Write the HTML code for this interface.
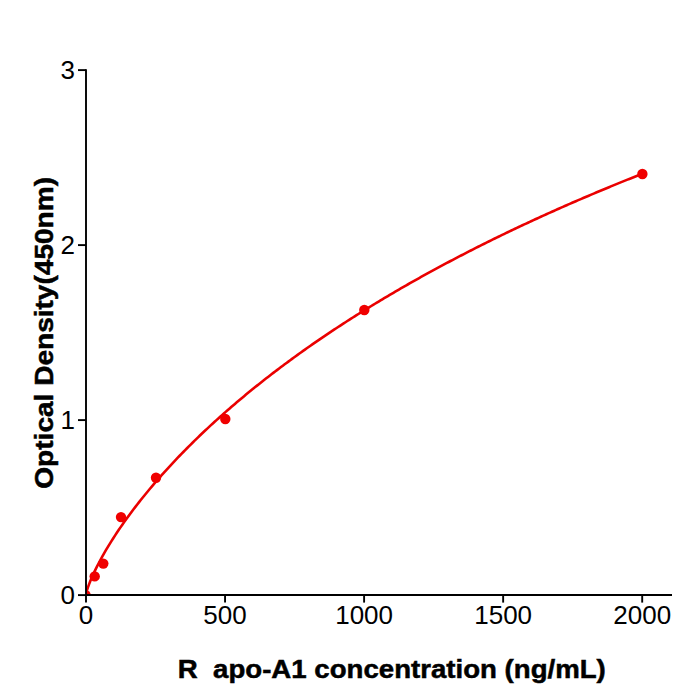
<!DOCTYPE html>
<html><head><meta charset="utf-8"><style>
html,body{margin:0;padding:0;background:#fff;}
svg{display:block;}
text{font-family:"Liberation Sans",sans-serif;fill:#000;}
</style></head><body>
<svg width="700" height="700" viewBox="0 0 700 700">
<rect width="700" height="700" fill="#fff"/>
<defs><clipPath id="ax"><rect x="86" y="0" width="600" height="595"/></clipPath></defs>
<g clip-path="url(#ax)">
<polyline points="85.60,596.06 85.88,594.41 86.16,593.22 86.43,592.16 86.71,591.18 86.99,590.25 87.27,589.37 87.55,588.51 87.83,587.69 88.10,586.88 88.38,586.10 88.66,585.34 88.94,584.59 89.22,583.85 89.50,583.13 89.77,582.42 90.05,581.72 90.33,581.03 90.61,580.36 90.89,579.68 91.17,579.02 91.17,579.02 93.01,574.82 94.85,570.87 96.69,567.11 98.54,563.50 100.38,560.03 102.22,556.67 104.07,553.40 105.91,550.22 107.75,547.12 109.60,544.09 111.44,541.13 113.28,538.23 115.12,535.38 116.97,532.58 118.81,529.83 120.65,527.13 122.50,524.47 124.34,521.85 126.18,519.27 128.02,516.72 129.87,514.21 131.71,511.73 133.55,509.29 135.40,506.87 137.24,504.49 139.08,502.13 140.92,499.80 142.77,497.49 144.61,495.21 146.45,492.95 148.30,490.72 150.14,488.51 151.98,486.32 153.83,484.16 155.67,482.01 157.51,479.89 159.35,477.78 161.20,475.69 163.04,473.62 164.88,471.57 166.73,469.54 168.57,467.53 170.41,465.53 172.25,463.55 174.10,461.58 175.94,459.63 177.78,457.69 179.63,455.77 181.47,453.87 183.31,451.98 185.16,450.10 187.00,448.24 188.84,446.39 190.68,444.55 192.53,442.73 194.37,440.92 196.21,439.12 198.06,437.33 199.90,435.56 201.74,433.80 203.58,432.05 205.43,430.31 207.27,428.58 209.11,426.87 210.96,425.16 212.80,423.47 214.64,421.78 216.48,420.11 218.33,418.44 220.17,416.79 222.01,415.15 223.86,413.51 225.70,411.89 227.54,410.28 229.39,408.67 231.23,407.07 233.07,405.49 234.91,403.91 236.76,402.34 238.60,400.78 240.44,399.23 242.29,397.69 244.13,396.15 245.97,394.62 247.81,393.11 249.66,391.60 251.50,390.09 253.34,388.60 255.19,387.11 257.03,385.63 258.87,384.16 260.71,382.70 262.56,381.24 264.40,379.79 266.24,378.35 268.09,376.92 269.93,375.49 271.77,374.07 273.62,372.65 275.46,371.25 277.30,369.85 279.14,368.45 280.99,367.07 282.83,365.69 284.67,364.31 286.52,362.94 288.36,361.58 290.20,360.23 292.04,358.88 293.89,357.54 295.73,356.20 297.57,354.87 299.42,353.55 301.26,352.23 303.10,350.92 304.95,349.61 306.79,348.31 308.63,347.01 310.47,345.72 312.32,344.44 314.16,343.16 316.00,341.89 317.85,340.62 319.69,339.36 321.53,338.10 323.37,336.85 325.22,335.60 327.06,334.36 328.90,333.12 330.75,331.89 332.59,330.67 334.43,329.44 336.27,328.23 338.12,327.02 339.96,325.81 341.80,324.61 343.65,323.41 345.49,322.22 347.33,321.03 349.18,319.85 351.02,318.67 352.86,317.50 354.70,316.33 356.55,315.16 358.39,314.00 360.23,312.85 362.08,311.70 363.92,310.55 365.76,309.41 367.60,308.27 369.45,307.14 371.29,306.01 373.13,304.88 374.98,303.76 376.82,302.64 378.66,301.53 380.50,300.42 382.35,299.31 384.19,298.21 386.03,297.12 387.88,296.02 389.72,294.93 391.56,293.85 393.41,292.77 395.25,291.69 397.09,290.62 398.93,289.55 400.78,288.48 402.62,287.42 404.46,286.36 406.31,285.30 408.15,284.25 409.99,283.21 411.83,282.16 413.68,281.12 415.52,280.08 417.36,279.05 419.21,278.02 421.05,276.99 422.89,275.97 424.74,274.95 426.58,273.93 428.42,272.92 430.26,271.91 432.11,270.91 433.95,269.90 435.79,268.90 437.64,267.91 439.48,266.91 441.32,265.92 443.16,264.94 445.01,263.95 446.85,262.97 448.69,262.00 450.54,261.02 452.38,260.05 454.22,259.08 456.06,258.12 457.91,257.16 459.75,256.20 461.59,255.24 463.44,254.29 465.28,253.34 467.12,252.40 468.97,251.45 470.81,250.51 472.65,249.57 474.49,248.64 476.34,247.71 478.18,246.78 480.02,245.85 481.87,244.93 483.71,244.01 485.55,243.09 487.39,242.17 489.24,241.26 491.08,240.35 492.92,239.44 494.77,238.54 496.61,237.64 498.45,236.74 500.29,235.84 502.14,234.95 503.98,234.06 505.82,233.17 507.67,232.28 509.51,231.40 511.35,230.52 513.20,229.64 515.04,228.77 516.88,227.89 518.72,227.02 520.57,226.15 522.41,225.29 524.25,224.42 526.10,223.56 527.94,222.71 529.78,221.85 531.62,221.00 533.47,220.15 535.31,219.30 537.15,218.45 539.00,217.61 540.84,216.77 542.68,215.93 544.53,215.09 546.37,214.26 548.21,213.42 550.05,212.59 551.90,211.77 553.74,210.94 555.58,210.12 557.43,209.30 559.27,208.48 561.11,207.66 562.95,206.85 564.80,206.04 566.64,205.23 568.48,204.42 570.33,203.61 572.17,202.81 574.01,202.01 575.85,201.21 577.70,200.41 579.54,199.62 581.38,198.83 583.23,198.03 585.07,197.25 586.91,196.46 588.76,195.68 590.60,194.89 592.44,194.11 594.28,193.33 596.13,192.56 597.97,191.78 599.81,191.01 601.66,190.24 603.50,189.47 605.34,188.71 607.18,187.94 609.03,187.18 610.87,186.42 612.71,185.66 614.56,184.91 616.40,184.15 618.24,183.40 620.08,182.65 621.93,181.90 623.77,181.15 625.61,180.41 627.46,179.66 629.30,178.92 631.14,178.18 632.99,177.44 634.83,176.71 636.67,175.97 638.51,175.24 640.36,174.51 642.20,173.78" fill="none" stroke="#ea0000" stroke-width="2.6" stroke-linejoin="round"/>
<g fill="#f00000">
<circle cx="85.6" cy="595.1" r="5.2"/>
<circle cx="94.7" cy="576.4" r="5.2"/>
<circle cx="103.3" cy="563.6" r="5.2"/>
<circle cx="121" cy="517.1" r="5.2"/>
<circle cx="156" cy="477.8" r="5.2"/>
<circle cx="225.3" cy="419" r="5.2"/>
<circle cx="364.3" cy="310" r="5.2"/>
<circle cx="642.4" cy="174" r="5.2"/>
</g>
</g>
<g stroke="#000" stroke-width="1.9" fill="none">
<line x1="86" y1="69.2" x2="86" y2="596" />
<line x1="85" y1="595" x2="672" y2="595" />
<line x1="78" y1="595.1" x2="86" y2="595.1"/>
<line x1="78" y1="420.1" x2="86" y2="420.1"/>
<line x1="78" y1="245.1" x2="86" y2="245.1"/>
<line x1="78" y1="70.1" x2="86" y2="70.1"/>
<line x1="86.00" y1="595.1" x2="86.00" y2="602.6"/>
<line x1="225.05" y1="595.1" x2="225.05" y2="602.6"/>
<line x1="364.10" y1="595.1" x2="364.10" y2="602.6"/>
<line x1="503.15" y1="595.1" x2="503.15" y2="602.6"/>
<line x1="642.20" y1="595.1" x2="642.20" y2="602.6"/>
</g>
<g font-size="26">
<text x="75" y="604.1" text-anchor="end">0</text>
<text x="75" y="429.1" text-anchor="end">1</text>
<text x="75" y="254.1" text-anchor="end">2</text>
<text x="75" y="79.1" text-anchor="end">3</text>
<text x="86.00" y="624" text-anchor="middle">0</text>
<text x="225.05" y="624" text-anchor="middle">500</text>
<text x="364.10" y="624" text-anchor="middle">1000</text>
<text x="503.15" y="624" text-anchor="middle">1500</text>
<text x="642.20" y="624" text-anchor="middle">2000</text>
</g>
<text xml:space="preserve" style="white-space:pre" x="177.8" y="678" font-size="25.7" font-weight="bold" stroke="#000" stroke-width="0.5" textLength="428" lengthAdjust="spacingAndGlyphs">R  apo-A1 concentration (ng/mL)</text>
<text transform="translate(52.5,488.7) rotate(-90)" x="0" y="0" font-size="25.7" font-weight="bold" stroke="#000" stroke-width="0.5" textLength="311.7" lengthAdjust="spacingAndGlyphs">Optical Density(450nm)</text>
</svg>
</body></html>
